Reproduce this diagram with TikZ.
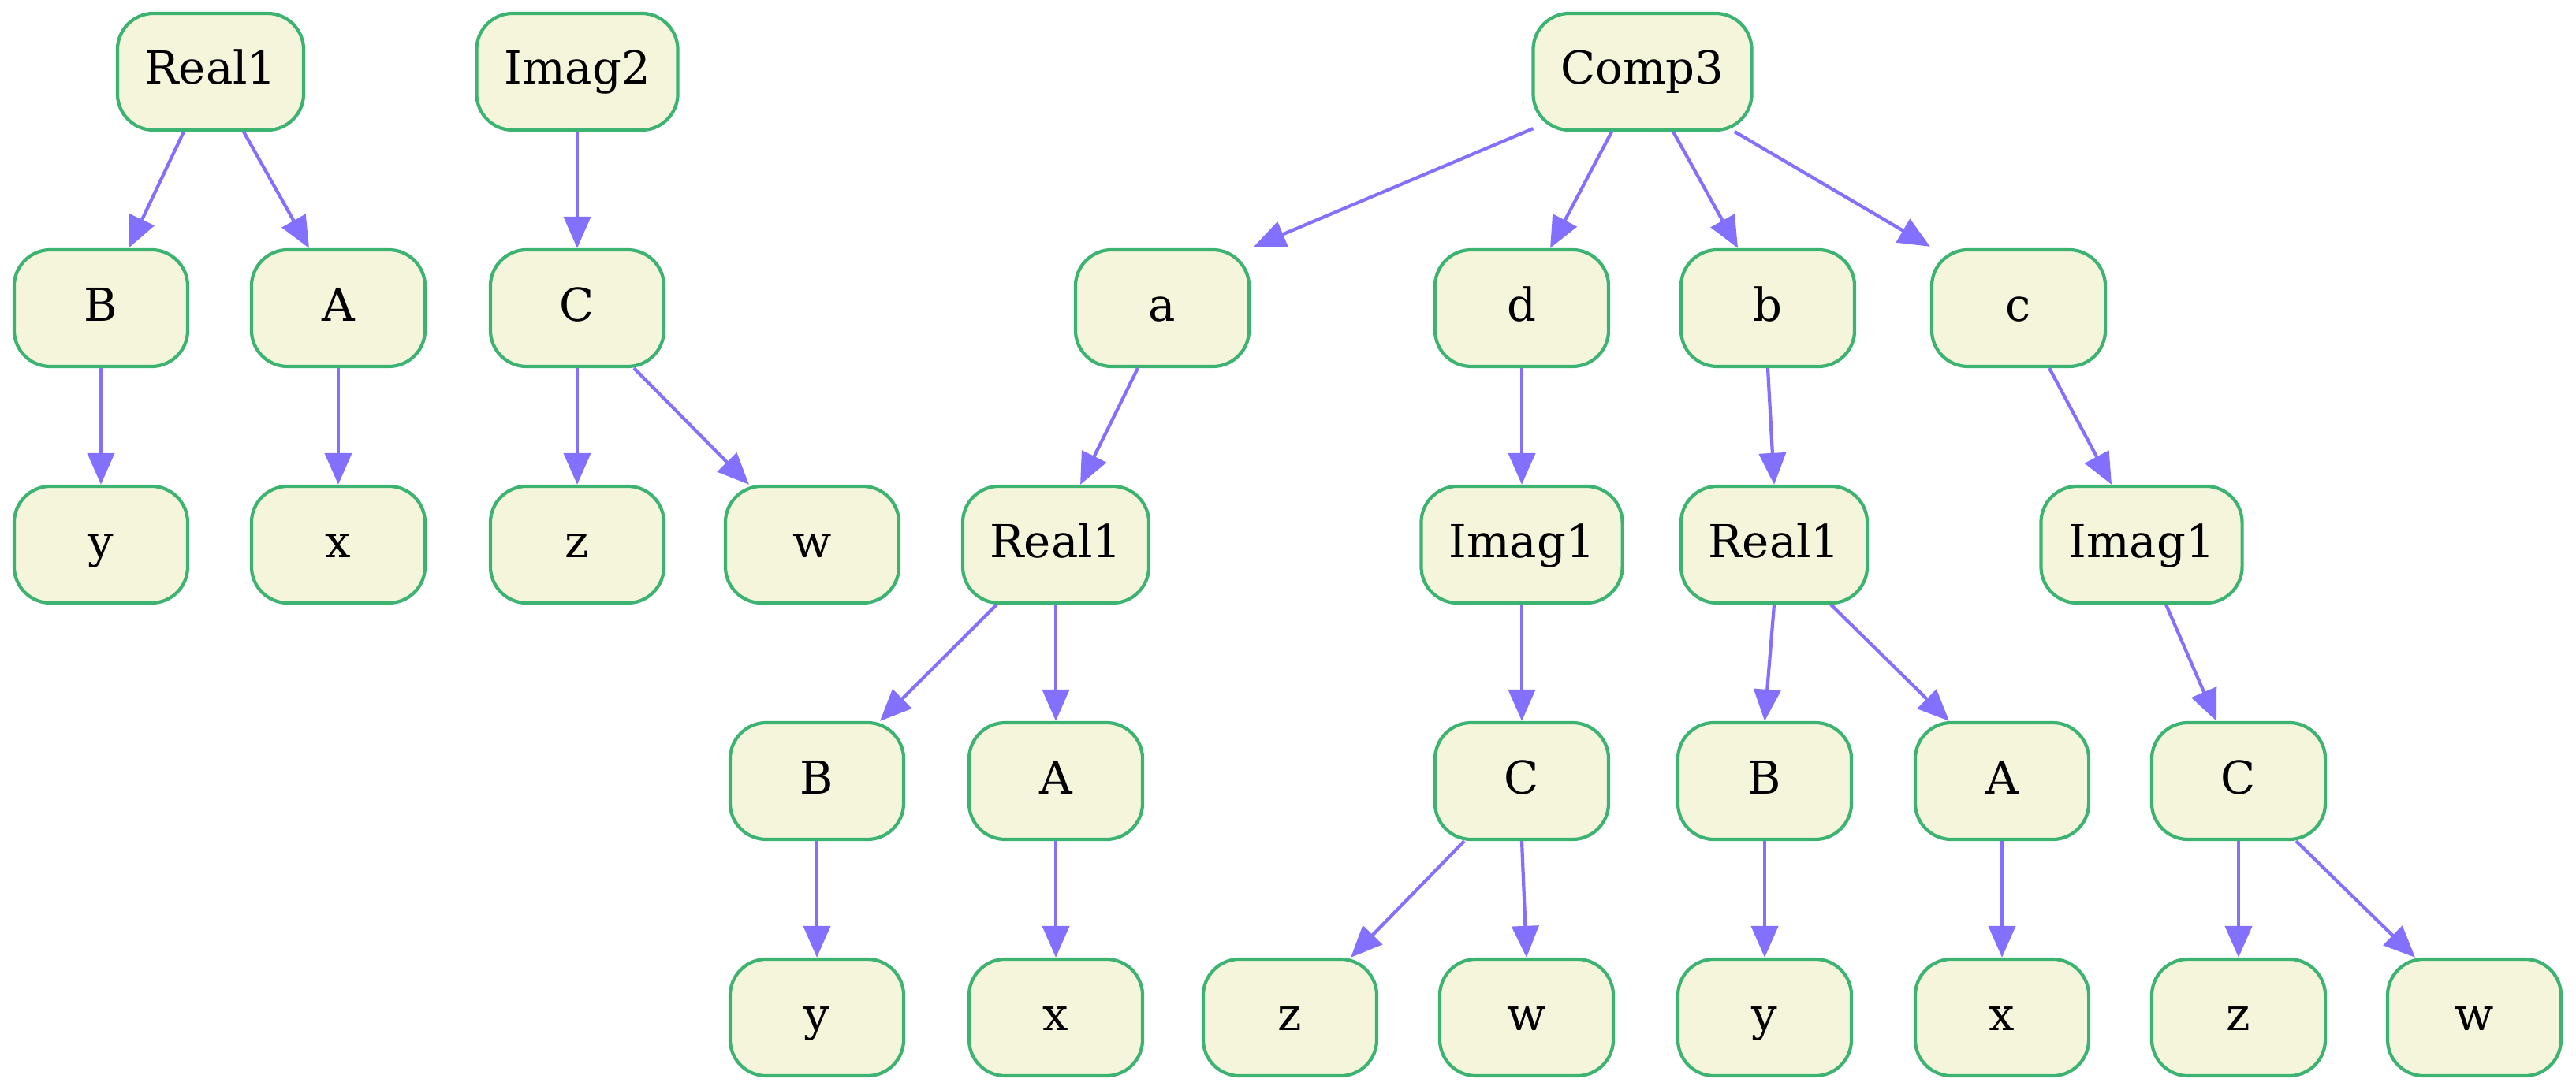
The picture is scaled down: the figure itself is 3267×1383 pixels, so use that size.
\documentclass[tikz,border=0pt]{standalone}
\usepackage{fontspec}
\setmainfont{DejaVu Serif}
\usetikzlibrary{arrows.meta,calc}
\definecolor{nodefill}{HTML}{F5F5DC}
\definecolor{nodeline}{HTML}{3CB371}
\definecolor{edgecol}{HTML}{8470FF}
\begin{document}
\begin{tikzpicture}[x=0.01cm,y=-0.01cm,
  tn/.style={draw=nodeline, fill=nodefill, line width=0.042cm, rounded corners=0.46cm,
    minimum height=1.48cm, minimum width=#1, inner sep=0pt,
    font=\fontsize{16.4pt}{19pt}\selectfont, text height=0.5cm, text depth=0.18cm},
  tn/.default=2.2cm,
  ed/.style={draw=edgecol, line width=0.042cm, -{Triangle[length=0.4cm,width=0.34cm]}}]
\useasboundingbox (0,0) rectangle (3267,1383);
% row 1
\node[tn=2.36cm] (R1) at (267,91) {Real1};
\node[tn=2.55cm] (I2) at (732,91) {Imag2};
\node[tn=2.77cm] (C3) at (2083,91) {Comp3};
% row 2
\node[tn] (B1) at (128,391) {B};
\node[tn] (A1) at (429,391) {A};
\node[tn] (C1) at (732,391) {C};
\node[tn] (na) at (1474,391) {a};
\node[tn] (nd) at (1930,391) {d};
\node[tn] (nb) at (2242,391) {b};
\node[tn] (nc) at (2560,391) {c};
% row 3
\node[tn] (y1) at (128,691) {y};
\node[tn] (x1) at (429,691) {x};
\node[tn] (z1) at (732,691) {z};
\node[tn] (w1) at (1030,691) {w};
\node[tn=2.36cm] (R2) at (1339,691) {Real1};
\node[tn=2.55cm] (I1) at (1930,691) {Imag1};
\node[tn=2.36cm] (R3) at (2250,691) {Real1};
\node[tn=2.55cm] (I3) at (2716,691) {Imag1};
% row 4
\node[tn] (B2) at (1036,991) {B};
\node[tn] (A2) at (1339,991) {A};
\node[tn] (C2) at (1930,991) {C};
\node[tn] (B3) at (2238,991) {B};
\node[tn] (A3) at (2539,991) {A};
\node[tn] (C4) at (2839,991) {C};
% row 5
\node[tn] (y2) at (1036,1291) {y};
\node[tn] (x2) at (1339,1291) {x};
\node[tn] (z2) at (1636,1291) {z};
\node[tn] (w2) at (1936,1291) {w};
\node[tn] (y3) at (2238,1291) {y};
\node[tn] (x3) at (2539,1291) {x};
\node[tn] (z3) at (2839,1291) {z};
\node[tn] (w3) at (3138,1291) {w};
% edges
\draw[ed] ($(R1.south)+(-34,0)$) -- ($(B1.north)+(35,0)$);
\draw[ed] ($(R1.south)+(42,0)$) -- ($(A1.north)+(-37,0)$);
\draw[ed] (B1.south) -- (y1.north);
\draw[ed] (A1.south) -- (x1.north);
\draw[ed] (I2.south) -- (C1.north);
\draw[ed] (C1.south) -- (z1.north);
\draw[ed] ($(C1.south)+(72,0)$) -- ($(w1.north)+(-80,0)$);
\draw[ed] ($(C3.south west)+(2,-4)$) -- ($(na.north east)+(4,-2)$);
\draw[ed] ($(C3.south)+(-39,0)$) -- ($(nd.north)+(36,0)$);
\draw[ed] ($(C3.south)+(39,0)$) -- ($(nb.north)+(-38,0)$);
\draw[ed] ($(C3.south)+(117,0)$) -- ($(nc.north west)+(0,-2)$);
\draw[ed] ($(na.south)+(-31,0)$) -- ($(R2.north)+(31,0)$);
\draw[ed] ($(R2.south)+(-75,0)$) -- ($(B2.north)+(80,0)$);
\draw[ed] (R2.south) -- (A2.north);
\draw[ed] (B2.south) -- (y2.north);
\draw[ed] (A2.south) -- (x2.north);
\draw[ed] (nd.south) -- (I1.north);
\draw[ed] (I1.south) -- (C2.north);
\draw[ed] ($(C2.south)+(-73,0)$) -- ($(z2.north)+(77,0)$);
\draw[ed] (C2.south) -- (w2.north);
\draw[ed] (nb.south) -- (R3.north);
\draw[ed] (R3.south) -- (B3.north);
\draw[ed] ($(R3.south)+(72,0)$) -- ($(A3.north)+(-67,0)$);
\draw[ed] (B3.south) -- (y3.north);
\draw[ed] (A3.south) -- (x3.north);
\draw[ed] ($(nc.south)+(39,0)$) -- ($(I3.north)+(-38,0)$);
\draw[ed] ($(I3.south)+(31,0)$) -- ($(C4.north)+(-28,0)$);
\draw[ed] (C4.south) -- (z3.north);
\draw[ed] ($(C4.south)+(73,0)$) -- ($(w3.north)+(-75,0)$);
\end{tikzpicture}
\end{document}
